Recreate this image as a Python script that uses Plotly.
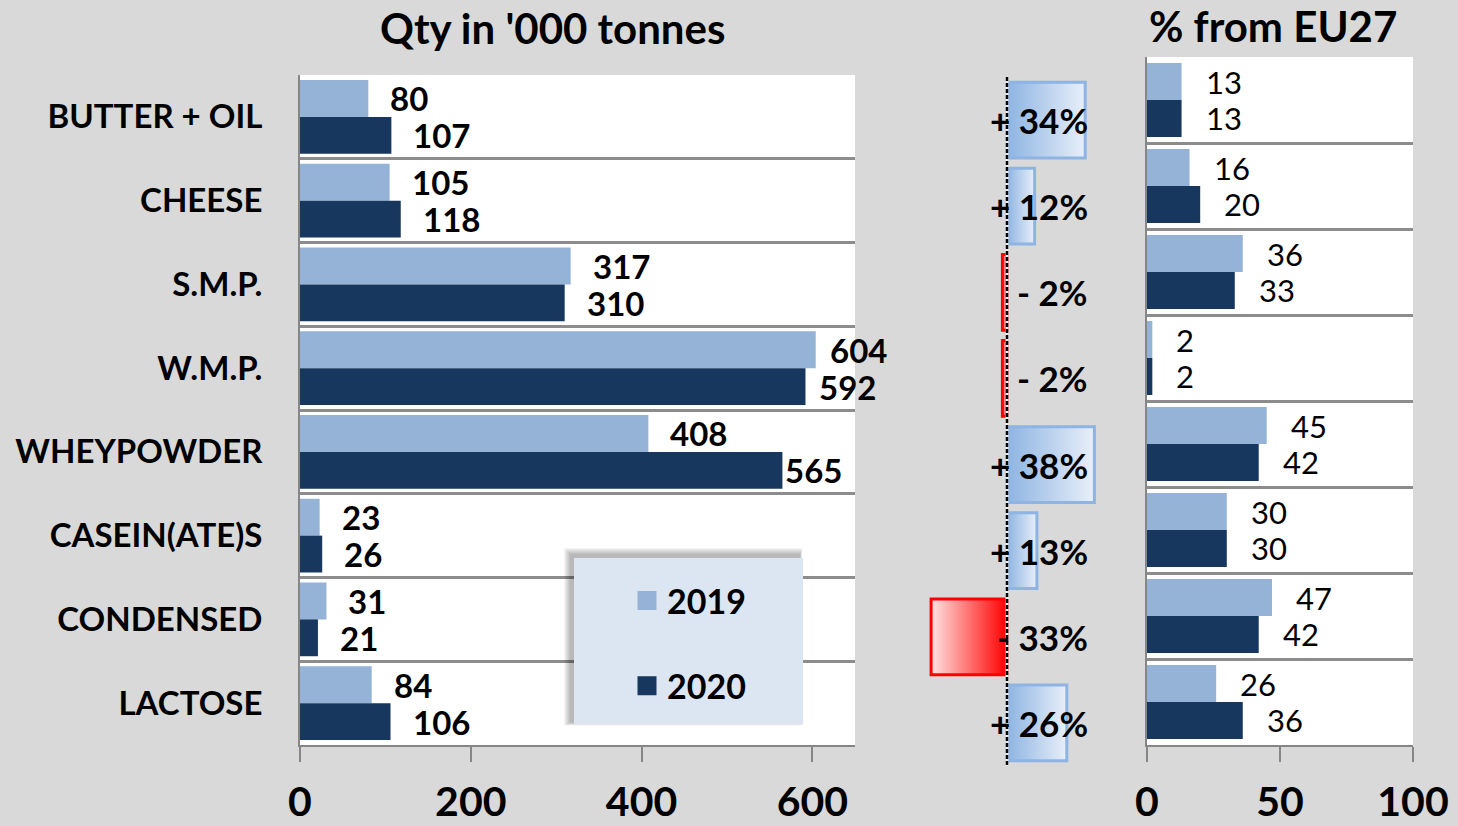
import plotly.graph_objects as go

# ---------------- data ----------------
categories = ["BUTTER + OIL", "CHEESE", "S.M.P.", "W.M.P.", "WHEYPOWDER",
              "CASEIN(ATE)S", "CONDENSED", "LACTOSE"]
qty_2019 = [80, 105, 317, 604, 408, 23, 31, 84]
qty_2020 = [107, 118, 310, 592, 565, 26, 21, 106]
change_pct = [34, 12, -2, -2, 38, 13, -33, 26]
change_labels = ["+ 34%", "+ 12%", "- 2%", "- 2%", "+ 38%", "+ 13%", "- 33%", "+ 26%"]
eu_share_2019 = [13, 16, 36, 2, 45, 30, 47, 26]
eu_share_2020 = [13, 20, 33, 2, 42, 30, 42, 36]
qty_ticks = [0, 200, 400, 600]
share_ticks = [0, 50, 100]
years = ["2019", "2020"]

# ---------------- style ----------------
W, H = 1458, 826
BG = "#D9D9D9"
C19 = "#95B3D7"
C20 = "#17375E"
GRID = "#8C8C8C"
FONT = "Lato"


def fx(px):
    return px / W


def fy(py):
    return 1 - py / H


idx = list(range(len(categories)))
bounds = [i - 0.5 for i in range(len(categories) + 1)]

fig = go.Figure()

# left panel bars
BW_L = 0.44
fig.add_trace(go.Bar(y=idx, x=qty_2019, orientation="h", width=BW_L, offset=-BW_L,
                     marker=dict(color=C19, line=dict(width=0)), xaxis="x", yaxis="y",
                     showlegend=False, name=years[0]))
fig.add_trace(go.Bar(y=idx, x=qty_2020, orientation="h", width=BW_L, offset=0,
                     marker=dict(color=C20, line=dict(width=0)), xaxis="x", yaxis="y",
                     showlegend=False, name=years[1]))

# right panel bars
BW_R = 0.43
fig.add_trace(go.Bar(y=idx, x=eu_share_2019, orientation="h", width=BW_R, offset=-BW_R,
                     marker=dict(color=C19, line=dict(width=0)), xaxis="x3", yaxis="y3",
                     showlegend=False, name=years[0]))
fig.add_trace(go.Bar(y=idx, x=eu_share_2020, orientation="h", width=BW_R, offset=0,
                     marker=dict(color=C20, line=dict(width=0)), xaxis="x3", yaxis="y3",
                     showlegend=False, name=years[1]))

# middle panel: gradient bars for % change
HB = 0.44
for i, v in enumerate(change_pct):
    if v >= 0:
        cs = [[0, "#8DB4E2"], [1, "#E8EFF9"]]
        lc = "#8DB4E2"
    else:
        cs = [[0, "#FFE3E3"], [1, "#FF0000"]]
        lc = "#FF0000"
    fig.add_trace(go.Scatter(
        x=[0, v, v, 0, 0], y=[i - HB, i - HB, i + HB, i + HB, i - HB],
        mode="lines", fill="toself",
        fillgradient=dict(type="horizontal", colorscale=cs),
        line=dict(color=lc, width=3), xaxis="x2", yaxis="y2",
        showlegend=False, hoverinfo="skip"))

# legend entries
for name, col in zip(years, [C19, C20]):
    fig.add_trace(go.Scatter(x=[None], y=[None], mode="markers", name=name,
                             legendgroup=name,
                             marker=dict(symbol="square", size=16, color=col,
                                         line=dict(color=col, width=3)),
                             xaxis="x", yaxis="y"))

annotations = []
# left value labels
for i in idx:
    for vals, off in ((qty_2019, -BW_L / 2), (qty_2020, BW_L / 2)):
        v = vals[i]
        shift = 20
        if v > 550:
            shift = 12 if v != 565 else 1
        annotations.append(dict(x=v, y=i + off, xref="x", yref="y", text=str(v),
                                xanchor="left", yanchor="middle", xshift=shift,
                                showarrow=False,
                                font=dict(family=FONT, size=33, color="black", weight="bold")))
# right value labels
for i in idx:
    for vals, off in ((eu_share_2019, -BW_R / 2), (eu_share_2020, BW_R / 2)):
        v = vals[i]
        annotations.append(dict(x=v, y=i + off, xref="x3", yref="y3", text=str(v),
                                xanchor="left", yanchor="middle", xshift=22,
                                showarrow=False,
                                font=dict(family=FONT, size=31, color="black")))
# middle labels
for i, t in enumerate(change_labels):
    annotations.append(dict(x=36, y=i, xref="x2", yref="y2", text=t,
                            xanchor="right", yanchor="middle", showarrow=False,
                            font=dict(family=FONT, size=35, color="black", weight="bold")))
# titles
annotations.append(dict(x=fx(552), y=fy(28), xref="paper", yref="paper",
                        text="Qty in '000 tonnes", showarrow=False,
                        xanchor="center", yanchor="middle",
                        font=dict(family=FONT, size=42, color="black", weight="bold")))
annotations.append(dict(x=fx(1273), y=fy(26), xref="paper", yref="paper",
                        text="% from EU27", showarrow=False,
                        xanchor="center", yanchor="middle",
                        font=dict(family=FONT, size=42, color="black", weight="bold")))

shapes = []
# white plot backgrounds
for xr, yr in (("x", "y"), ("x3", "y3")):
    shapes.append(dict(type="rect", xref=f"{xr} domain", yref=f"{yr} domain",
                       x0=0, x1=1, y0=0, y1=1, fillcolor="white",
                       line=dict(width=0), layer="below"))
# zero line in middle panel
shapes.append(dict(type="line", xref="x2", yref="y2", x0=0, x1=0, y0=-0.5, y1=7.5,
                   line=dict(color="#EDEDED", width=3), layer="above"))
shapes.append(dict(type="line", xref="x2", yref="y2", x0=0, x1=0, y0=-0.5, y1=7.5,
                   line=dict(color="black", width=2.5, dash="4px,2px"), layer="above"))
# legend box with soft shadow
lx0, lx1, ly0, ly1 = 574, 803, 558, 724
for k in range(7, 0, -1):
    shapes.append(dict(type="rect", xref="paper", yref="paper",
                       x0=fx(lx0 - 3 - k), x1=fx(lx1 - 3 + k * 0.3),
                       y0=fy(ly1 - 2 + k * 0.5), y1=fy(ly0 - 3 - k),
                       fillcolor="rgba(0,0,0,0.045)", line=dict(width=0), layer="above"))
shapes.append(dict(type="rect", xref="paper", yref="paper",
                   x0=fx(lx0), x1=fx(lx1), y0=fy(ly1), y1=fy(ly0),
                   fillcolor="#DCE6F2", line=dict(width=0), layer="above"))

axis_line = dict(showline=True, linecolor="#868686", linewidth=2, zeroline=False,
                 automargin=False)
tick_font = dict(family=FONT, size=41, color="black", weight="bold")

fig.update_layout(
    width=W, height=H, autosize=False,
    margin=dict(l=0, r=0, t=0, b=0, pad=0),
    paper_bgcolor=BG, plot_bgcolor=BG,
    barmode="overlay",
    font=dict(family=FONT, color="black"),
    xaxis=dict(domain=[fx(300), fx(855)], range=[0, 650], anchor="y",
               tickvals=qty_ticks, ticks="outside", ticklen=15, tickwidth=2,
               tickcolor="#868686", showgrid=False, tickfont=tick_font,
               ticklabelstandoff=5, **axis_line),
    yaxis=dict(domain=[fy(745), fy(75)], range=[7.5, -0.5], anchor="x",
               tickvals=idx, ticktext=categories, ticks="", showgrid=False,
               tickfont=dict(family=FONT, size=33, color="black", weight="bold"),
               ticklabelstandoff=29,
               minor=dict(tickvals=bounds, showgrid=True, gridcolor=GRID,
                          gridwidth=2.5, ticks=""),
               **axis_line),
    xaxis2=dict(domain=[fx(915), fx(1099)], range=[-40, 40], anchor="y2",
                visible=False, automargin=False),
    yaxis2=dict(domain=[fy(766), fy(77)], range=[7.5, -0.5], anchor="x2",
                visible=False, automargin=False),
    xaxis3=dict(domain=[fx(1147), fx(1413)], range=[0, 100], anchor="y3",
                tickvals=share_ticks, ticks="outside", ticklen=15, tickwidth=2,
                tickcolor="#868686", showgrid=False, tickfont=tick_font,
                ticklabelstandoff=5, **axis_line),
    yaxis3=dict(domain=[fy(745), fy(57)], range=[7.5, -0.5], anchor="x3",
                tickvals=idx, showticklabels=False, ticks="", showgrid=False,
                minor=dict(tickvals=bounds, showgrid=True, gridcolor=GRID,
                           gridwidth=2.5, ticks=""),
                **axis_line),
    legend=dict(x=fx(627), y=fy(572), xanchor="left", yanchor="top",
                bgcolor="rgba(0,0,0,0)", traceorder="grouped", tracegroupgap=38,
                font=dict(family=FONT, size=34, color="black", weight="bold")),
    annotations=annotations,
    shapes=shapes,
)

fig.write_html("out.html", config={"displayModeBar": False},
               post_script="document.body.style.margin='0';document.body.style.overflow='hidden';")
